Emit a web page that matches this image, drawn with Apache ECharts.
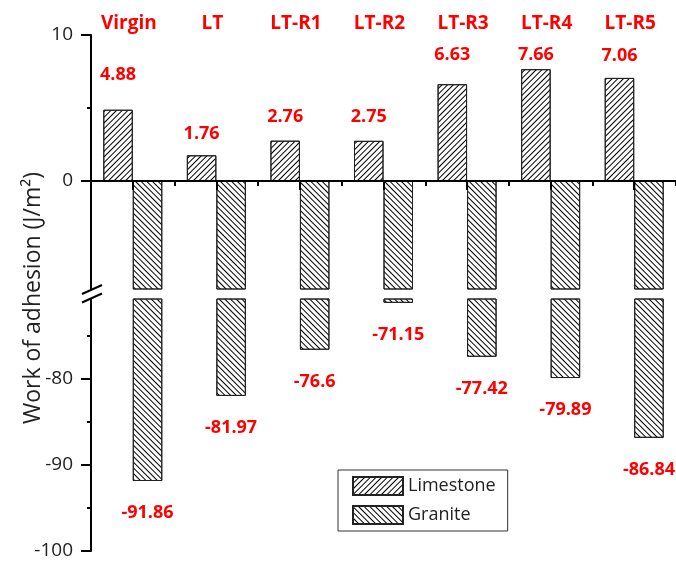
<!DOCTYPE html>
<html>
<head>
<meta charset="utf-8">
<script src="https://cdn.jsdelivr.net/npm/echarts@6/dist/echarts.min.js"></script>
<style>
  html, body { margin: 0; padding: 0; background: #fff; }
  #main { width: 676px; height: 561px; }
</style>
</head>
<body>
<div id="main"></div>
<script>
var samples = ['Virgin', 'LT', 'LT-R1', 'LT-R2', 'LT-R3', 'LT-R4', 'LT-R5'];
var limestone = [4.88, 1.76, 2.76, 2.75, 6.63, 7.66, 7.06];
var granite = [-91.86, -81.97, -76.6, -71.15, -77.42, -79.89, -86.84];
var upperTicks = [0, 10];
var upperMinor = [5];
var lowerTicks = [-100, -90, -80];
var lowerMinor = [-95, -85, -75];
// gaps between limestone bars and their labels, set by hand in the original figure
var topLabelGap = [26, 12, 15, 15, 20, 5, 13];

var FONT = 'Open Sans';
var AXIS_X = 91;
var chartDom = document.getElementById('main');
var myChart = echarts.init(chartDom);

var limeDecal = {
  symbol: 'rect', symbolSize: 1,
  dashArrayX: [1, 0], dashArrayY: [1, 3],
  rotation: -Math.PI / 4, color: '#000'
};
var graniteDecal = {
  symbol: 'rect', symbolSize: 1,
  dashArrayX: [1, 0], dashArrayY: [1, 3],
  rotation: Math.PI / 4, color: '#000'
};
var redLabel = { color: '#ff0000', fontFamily: FONT, fontWeight: 'bold', fontSize: 18 };

function yAxisMain(grid, min, max, ticks) {
  return {
    type: 'value', gridIndex: grid, min: min, max: max, position: 'left',
    axisLine: { show: true, onZero: false, lineStyle: { color: '#000', width: 2 } },
    axisTick: { show: true, length: 10, customValues: ticks, lineStyle: { color: '#000', width: 2 } },
    axisLabel: { customValues: ticks, color: '#222', fontFamily: FONT, fontSize: 19, margin: 18 },
    splitLine: { show: false }
  };
}
function yAxisMinor(grid, min, max, ticks) {
  return {
    type: 'value', gridIndex: grid, min: min, max: max, position: 'left', offset: 0,
    axisLine: { show: false },
    axisTick: { show: true, length: 4, customValues: ticks, lineStyle: { color: '#000', width: 2 } },
    axisLabel: { show: false },
    splitLine: { show: false }
  };
}

var option = {
  animation: false,
  grid: [
    { left: AXIS_X, top: 35, width: 595, height: 254 },
    { left: AXIS_X, top: 299, width: 595, height: 252 }
  ],
  xAxis: [
    {
      type: 'category', gridIndex: 0, data: samples, position: 'bottom', z: 5,
      axisLine: { show: true, onZero: true, onZeroAxisIndex: 0, lineStyle: { color: '#000', width: 2 } },
      axisTick: { show: true, length: 5, lineStyle: { color: '#000', width: 2 } },
      axisLabel: { show: false }
    },
    {
      type: 'category', gridIndex: 0, data: samples, position: 'top',
      axisLine: { show: false }, axisTick: { show: false },
      axisLabel: Object.assign({ margin: 2, interval: 0, padding: [0, 8, 0, 0] }, redLabel, { fontSize: 19 })
    },
    {
      type: 'category', gridIndex: 0, data: samples, position: 'bottom', z: 5,
      axisLine: { show: false, onZero: true, onZeroAxisIndex: 0 },
      axisTick: { show: true, alignWithLabel: true, length: 9, lineStyle: { color: '#000', width: 2 } },
      axisLabel: { show: false }
    },
    { type: 'category', gridIndex: 1, data: samples, show: false }
  ],
  yAxis: [
    yAxisMain(0, -7.4, 10, upperTicks),
    yAxisMinor(0, -7.4, 10, upperMinor),
    yAxisMain(1, -100, -70.7, lowerTicks),
    yAxisMinor(1, -100, -70.7, lowerMinor)
  ],
  legend: {
    data: ['Limestone', 'Granite'],
    orient: 'vertical', left: 338, top: 470,
    icon: 'rect', itemWidth: 50, itemHeight: 18, itemGap: 9,
    borderColor: '#333', borderWidth: 1, padding: [6, 12, 6, 14],
    textStyle: { color: '#222', fontFamily: FONT, fontSize: 18 }
  },
  series: [
    {
      name: 'Limestone', type: 'bar', xAxisIndex: 0, yAxisIndex: 0,
      barWidth: 29.5, barGap: '0%', clip: true,
      itemStyle: { color: '#fff', borderColor: '#222', borderWidth: 1, decal: limeDecal },
      label: Object.assign({ show: true, position: 'top' }, redLabel),
      data: limestone.map(function (v, i) {
        return { value: v, label: { distance: topLabelGap[i] } };
      })
    },
    {
      name: 'Granite', type: 'bar', xAxisIndex: 0, yAxisIndex: 0,
      barWidth: 29.5, barGap: '0%', clip: true,
      itemStyle: { color: '#fff', borderColor: '#222', borderWidth: 1, decal: graniteDecal },
      data: granite
    },
    {
      name: 'Limestone', type: 'bar', xAxisIndex: 3, yAxisIndex: 2,
      barWidth: 29.5, barGap: '0%', clip: true,
      itemStyle: { color: '#fff', borderColor: '#222', borderWidth: 1, decal: limeDecal },
      data: limestone
    },
    {
      name: 'Granite', type: 'bar', xAxisIndex: 3, yAxisIndex: 2,
      barWidth: 29.5, barGap: '0%', clip: true,
      itemStyle: { color: '#fff', borderColor: '#222', borderWidth: 1, decal: graniteDecal },
      label: Object.assign({ show: true, position: 'bottom', distance: 23 }, redLabel),
      data: granite
    }
  ],
  graphic: [
    {
      type: 'text', x: 33, y: 298, rotation: Math.PI / 2,
      style: {
        text: 'Work of adhesion (J/m²)', fill: '#222',
        font: '23px "' + FONT + '"', align: 'center', verticalAlign: 'middle'
      }
    },
    // axis break marks
    { type: 'line', shape: { x1: AXIS_X - 9, y1: 294, x2: AXIS_X + 11, y2: 285 }, style: { stroke: '#000', lineWidth: 2 } },
    { type: 'line', shape: { x1: AXIS_X - 9, y1: 302.5, x2: AXIS_X + 11, y2: 293.5 }, style: { stroke: '#000', lineWidth: 2 } }
  ]
};
option && myChart.setOption(option);
</script>
</body>
</html>
